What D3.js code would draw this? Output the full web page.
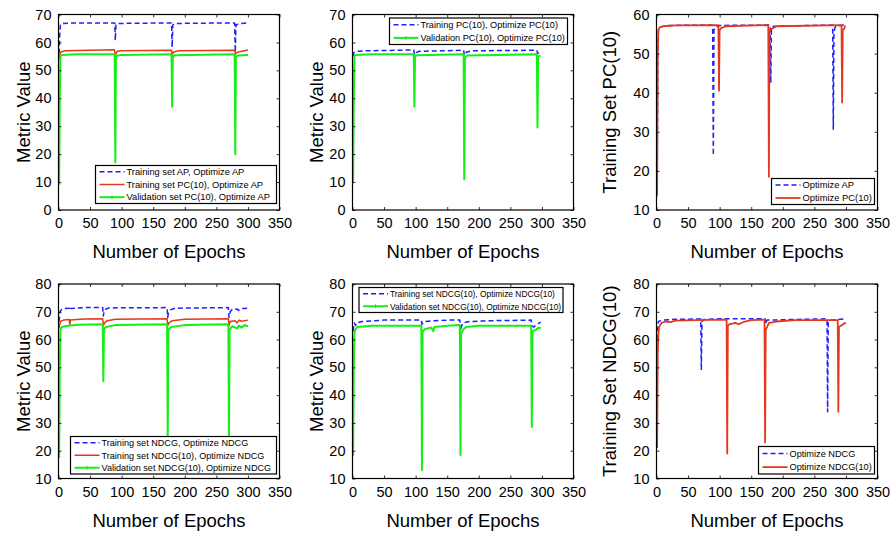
<!DOCTYPE html>
<html>
<head>
<meta charset="utf-8">
<script src="https://cdn.jsdelivr.net/npm/d3@7"></script>
<style>
body { margin: 0; background: #fff; }
text { font-family: "Liberation Sans", Arial, Helvetica, sans-serif; fill: #000; }
</style>
</head>
<body>
<svg id="chart" width="894" height="534"></svg>
<script>
// tick labels
var xTicks = [0, 50, 100, 150, 200, 250, 300, 350];
var yTicksAP = [0, 10, 20, 30, 40, 50, 60, 70];
var yTicksPC = [10, 20, 30, 40, 50, 60];
var yTicksNDCG = [10, 20, 30, 40, 50, 60, 70, 80];

// series values: [epoch, value]
var p1TrainAP = [[1,56],[2,63],[3,66.3],[5,66.8],[30,67],[89,67],[90,60.7],[91,66.3],[95,66.8],[179,67],[180,58.3],[181,66.3],[185,66.8],[279,67],[280,56.5],[281,66.3],[290,66.8],[300,67]];
var p1TrainPC = [[1,54],[2,55.5],[3,56.5],[10,57],[50,57.2],[88,57.4],[89,57],[90,55.3],[91,56],[93,56.8],[100,57],[179,57.2],[180,55.6],[182,56.5],[190,57],[279,57.2],[280,55.8],[283,56.5],[300,57.3]];
var p1ValPC = [[1,9],[2,40],[3,55],[5,55.5],[30,55.8],[89,55.8],[90,17],[91,55],[94,55.3],[100,55.5],[179,55.8],[180,37],[181,55],[184,55.4],[279,55.8],[280,20],[281,55],[284,55.3],[300,55.5]];

var p2TrainPC = [[1,55],[2,56.3],[5,56.8],[20,57],[97,57.3],[98,56],[99,55.5],[100,56.2],[105,56.8],[176,57.2],[177,55.5],[178,55.3],[180,56.5],[190,57],[292,57.2],[293,56],[295,56.3],[298,57.2]];
var p2ValPC = [[1,10],[2,40],[3,55],[5,55.5],[30,55.8],[97,55.8],[98,37],[99,55],[102,55.4],[176,55.8],[177,11],[178,54.5],[181,55.3],[292,55.8],[293,29.5],[294,55],[298,55.3]];

var p3OptAP = [[1,14],[2,50],[3,56],[5,56.8],[20,57.2],[88,57.3],[89,56],[90,24],[91,56],[93,56.7],[100,57.2],[180,57.3],[181,42.5],[182,56],[185,57],[279,57.3],[280,30.5],[281,55.5],[283,56.8],[290,57.2],[300,57.4]];
var p3OptPC = [[1,13.5],[2,50],[3,56],[5,56.7],[10,57],[30,57.2],[98,57.3],[99,40.5],[100,56],[102,56.5],[110,57],[177,57.3],[178,18.5],[179,55.5],[181,56.2],[190,57],[293,57.3],[294,37.5],[295,56],[297,56.3],[299,57.2]];

var p4TrainNDCG = [[1,66.5],[2,69.5],[3,70.3],[5,70.8],[10,71.2],[17,71.3],[18,70.5],[19,71.2],[40,71.5],[70,71.5],[71,68.5],[72,70],[75,71],[80,71.4],[172,71.5],[173,68],[174,69.5],[177,70.7],[185,71.3],[269,71.5],[270,68],[272,70],[275,70.8],[283,71],[285,70.5],[290,71.2],[300,71.3]];
var p4TrainNDCG10 = [[1,64],[2,65.5],[3,66.5],[8,67],[17,67.2],[18,65.5],[19,67],[40,67.4],[70,67.5],[71,65],[73,66],[77,66.8],[90,67.3],[172,67.5],[173,65],[175,66],[180,66.8],[200,67.3],[269,67.5],[270,65],[272,66.5],[280,66.8],[283,66],[286,67],[290,66.6],[300,67]];
var p4ValNDCG10 = [[1,17.5],[2,50],[3,63.5],[5,64.5],[15,65],[30,65.3],[70,65.5],[71,45],[72,63.8],[75,64.5],[90,65.2],[172,65.5],[173,24],[174,63.5],[178,64.5],[200,65.2],[269,65.5],[270,24],[271,63.5],[275,64.8],[283,64],[286,65],[290,64.3],[295,65.2],[300,64.8]];

var p5TrainNDCG10 = [[1,63],[2,65],[3,66],[5,65],[7,66],[15,66.5],[50,67],[109,67],[110,65.5],[112,66],[115,66.5],[130,66.8],[150,67],[170,67],[171,63],[172,64.5],[175,66],[185,66.5],[220,66.8],[283,67],[284,65],[287,64.5],[292,65.5],[296,66],[298,66.3]];
var p5ValNDCG10 = [[1,18],[2,50],[3,62],[4,63.5],[8,64.5],[30,65],[109,65],[110,13],[111,63],[115,63.8],[125,64.3],[128,63],[130,64.5],[150,65],[170,65.2],[171,18.5],[172,62],[175,63.5],[180,64.5],[200,65],[283,65],[284,28.5],[285,63],[290,63.5],[295,64.3],[298,64]];

var p6OptNDCG = [[1,60],[2,65.5],[3,66.5],[10,67],[30,67.3],[70,67.4],[71,49],[72,66.5],[75,67.2],[100,67.5],[172,67.5],[173,65.5],[175,67],[270,67.5],[271,34],[272,66],[275,67],[300,67.5]];
var p6OptNDCG10 = [[1,21],[2,55],[3,62],[4,64.5],[8,66],[15,66.5],[22,66.3],[30,66.8],[60,67],[111,67.2],[112,19],[113,65],[115,65.5],[125,66],[130,65.5],[140,66.5],[150,67],[171,67.2],[172,23],[173,63.5],[175,64.5],[178,66],[190,66.5],[220,67],[287,67],[288,34],[289,64.5],[292,65],[297,65.8],[300,66]];

var BLUE = "#1f1fff", RED = "#e4381c", GREEN = "#16ee16";

var svg = d3.select("#chart");
svg.append("rect").attr("width", 894).attr("height", 534).attr("fill", "#fff");

function drawPanel(p) {
    var g = svg.append("g").attr("transform", "translate(" + p.left + "," + p.top + ")");
    var w = 221, h = p.h;
    var x = d3.scaleLinear().domain([0, 350]).range([0, w]);
    var y = d3.scaleLinear().domain([p.yTicks[0], p.yTicks[p.yTicks.length - 1]]).range([h, 0]);

    var clipId = "clip" + p.id;
    g.append("clipPath").attr("id", clipId).append("rect").attr("width", w).attr("height", h);

    var line = d3.line().x(d => x(d[0])).y(d => y(d[1]));
    var plot = g.append("g").attr("clip-path", "url(#" + clipId + ")");
    p.series.forEach(function (s) {
        plot.append("path")
            .attr("d", line(s.data))
            .attr("fill", "none")
            .attr("stroke", s.color)
            .attr("stroke-width", s.width)
            .attr("stroke-dasharray", s.dash ? "5,3" : null)
            .attr("stroke-linejoin", "round");
    });

    // axes, MATLAB style: inward ticks on all sides
    g.append("g").attr("transform", "translate(0," + h + ")")
        .call(d3.axisBottom(x).tickValues(xTicks).tickSizeInner(-3).tickSizeOuter(0).tickPadding(8));
    g.append("g")
        .call(d3.axisLeft(y).tickValues(p.yTicks).tickSizeInner(-3).tickSizeOuter(0).tickPadding(7));
    g.append("g").call(d3.axisTop(x).tickValues(xTicks).tickSizeInner(-3).tickSizeOuter(0).tickFormat(""));
    g.append("g").attr("transform", "translate(" + w + ",0)")
        .call(d3.axisRight(y).tickValues(p.yTicks).tickSizeInner(-3).tickSizeOuter(0).tickFormat(""));
    g.selectAll(".domain").remove();
    g.selectAll(".tick line").attr("stroke", "#000").attr("stroke-width", 0.8);
    g.selectAll(".tick text").style("font-size", "14.5px").attr("fill", "#000");

    g.append("rect").attr("width", w).attr("height", h)
        .attr("fill", "none").attr("stroke", "#000").attr("stroke-width", 1.2);

    g.append("text").attr("x", w / 2).attr("y", h + 48)
        .attr("text-anchor", "middle").style("font-size", "18.5px").text("Number of Epochs");
    g.append("text").attr("transform", "translate(" + p.yTitleX + "," + (h / 2) + ") rotate(-90)")
        .attr("text-anchor", "middle").style("font-size", "18.5px").text(p.yTitle);

    // legend
    var L = p.legend;
    var lg = g.append("g").attr("transform", "translate(" + L.x + "," + L.y + ")");
    lg.append("rect").attr("width", L.w).attr("height", L.h)
        .attr("fill", "#fff").attr("stroke", "#000").attr("stroke-width", 1.2);
    var rowH = L.h / p.series.length;
    p.series.forEach(function (s, i) {
        var cy = rowH * (i + 0.5);
        lg.append("line").attr("x1", 4).attr("x2", 29).attr("y1", cy).attr("y2", cy)
            .attr("stroke", s.color).attr("stroke-width", s.width)
            .attr("stroke-dasharray", s.dash ? "5,3" : null);
        if (s.marker) {
            lg.append("path").attr("d", "M16.5," + (cy - 2) + "V" + (cy + 2))
                .attr("stroke", s.color).attr("stroke-width", 1);
        }
        lg.append("text").attr("x", 31).attr("y", cy + 3.3)
            .style("font-size", L.font + "px").text(s.name);
    });
}

var panels = [
    { id: 1, left: 58.5, top: 14.5, h: 195.5, yTicks: yTicksAP, yTitle: "Metric Value", yTitleX: -29,
      legend: { x: 37, y: 151, w: 181, h: 38, font: 9.3 },
      series: [
        { data: p1TrainAP, color: BLUE, width: 1.5, dash: true, name: "Training set AP, Optimize AP" },
        { data: p1TrainPC, color: RED, width: 1.5, name: "Training set PC(10), Optimize AP" },
        { data: p1ValPC, color: GREEN, width: 2, marker: true, name: "Validation set PC(10), Optimize AP" }
      ] },
    { id: 2, left: 352.5, top: 14.5, h: 195.5, yTicks: yTicksAP, yTitle: "Metric Value", yTitleX: -30,
      legend: { x: 37, y: 3.5, w: 178, h: 26.5, font: 9.2 },
      series: [
        { data: p2TrainPC, color: BLUE, width: 1.5, dash: true, name: "Training PC(10), Optimize PC(10)" },
        { data: p2ValPC, color: GREEN, width: 2, marker: true, name: "Validation PC(10), Optimize PC(10)" }
      ] },
    { id: 3, left: 656.5, top: 14.5, h: 195.5, yTicks: yTicksPC, yTitle: "Training Set PC(10)", yTitleX: -41,
      legend: { x: 115, y: 164, w: 103, h: 26, font: 9.4 },
      series: [
        { data: p3OptAP, color: BLUE, width: 1.5, dash: true, name: "Optimize AP" },
        { data: p3OptPC, color: RED, width: 1.8, name: "Optimize PC(10)" }
      ] },
    { id: 4, left: 58.5, top: 284, h: 194.5, yTicks: yTicksNDCG, yTitle: "Metric Value", yTitleX: -29,
      legend: { x: 12, y: 152.5, w: 206, h: 37.5, font: 9.1 },
      series: [
        { data: p4TrainNDCG, color: BLUE, width: 1.5, dash: true, name: "Training set NDCG, Optimize NDCG" },
        { data: p4TrainNDCG10, color: RED, width: 1.5, name: "Training set NDCG(10), Optimize NDCG" },
        { data: p4ValNDCG10, color: GREEN, width: 2, marker: true, name: "Validation set NDCG(10), Optimize NDCG" }
      ] },
    { id: 5, left: 352.5, top: 284, h: 194.5, yTicks: yTicksNDCG, yTitle: "Metric Value", yTitleX: -30,
      legend: { x: 6.5, y: 3.5, w: 204, h: 25, font: 8.4 },
      series: [
        { data: p5TrainNDCG10, color: BLUE, width: 1.5, dash: true, name: "Training set NDCG(10), Optimize NDCG(10)" },
        { data: p5ValNDCG10, color: GREEN, width: 2, marker: true, name: "Validation set NDCG(10), Optimize NDCG(10)" }
      ] },
    { id: 6, left: 656.5, top: 284, h: 194.5, yTicks: yTicksNDCG, yTitle: "Training Set NDCG(10)", yTitleX: -41,
      legend: { x: 102, y: 162.5, w: 116, h: 27.5, font: 9.2 },
      series: [
        { data: p6OptNDCG, color: BLUE, width: 1.5, dash: true, name: "Optimize NDCG" },
        { data: p6OptNDCG10, color: RED, width: 1.8, name: "Optimize NDCG(10)" }
      ] }
];

panels.forEach(drawPanel);
</script>
</body>
</html>
